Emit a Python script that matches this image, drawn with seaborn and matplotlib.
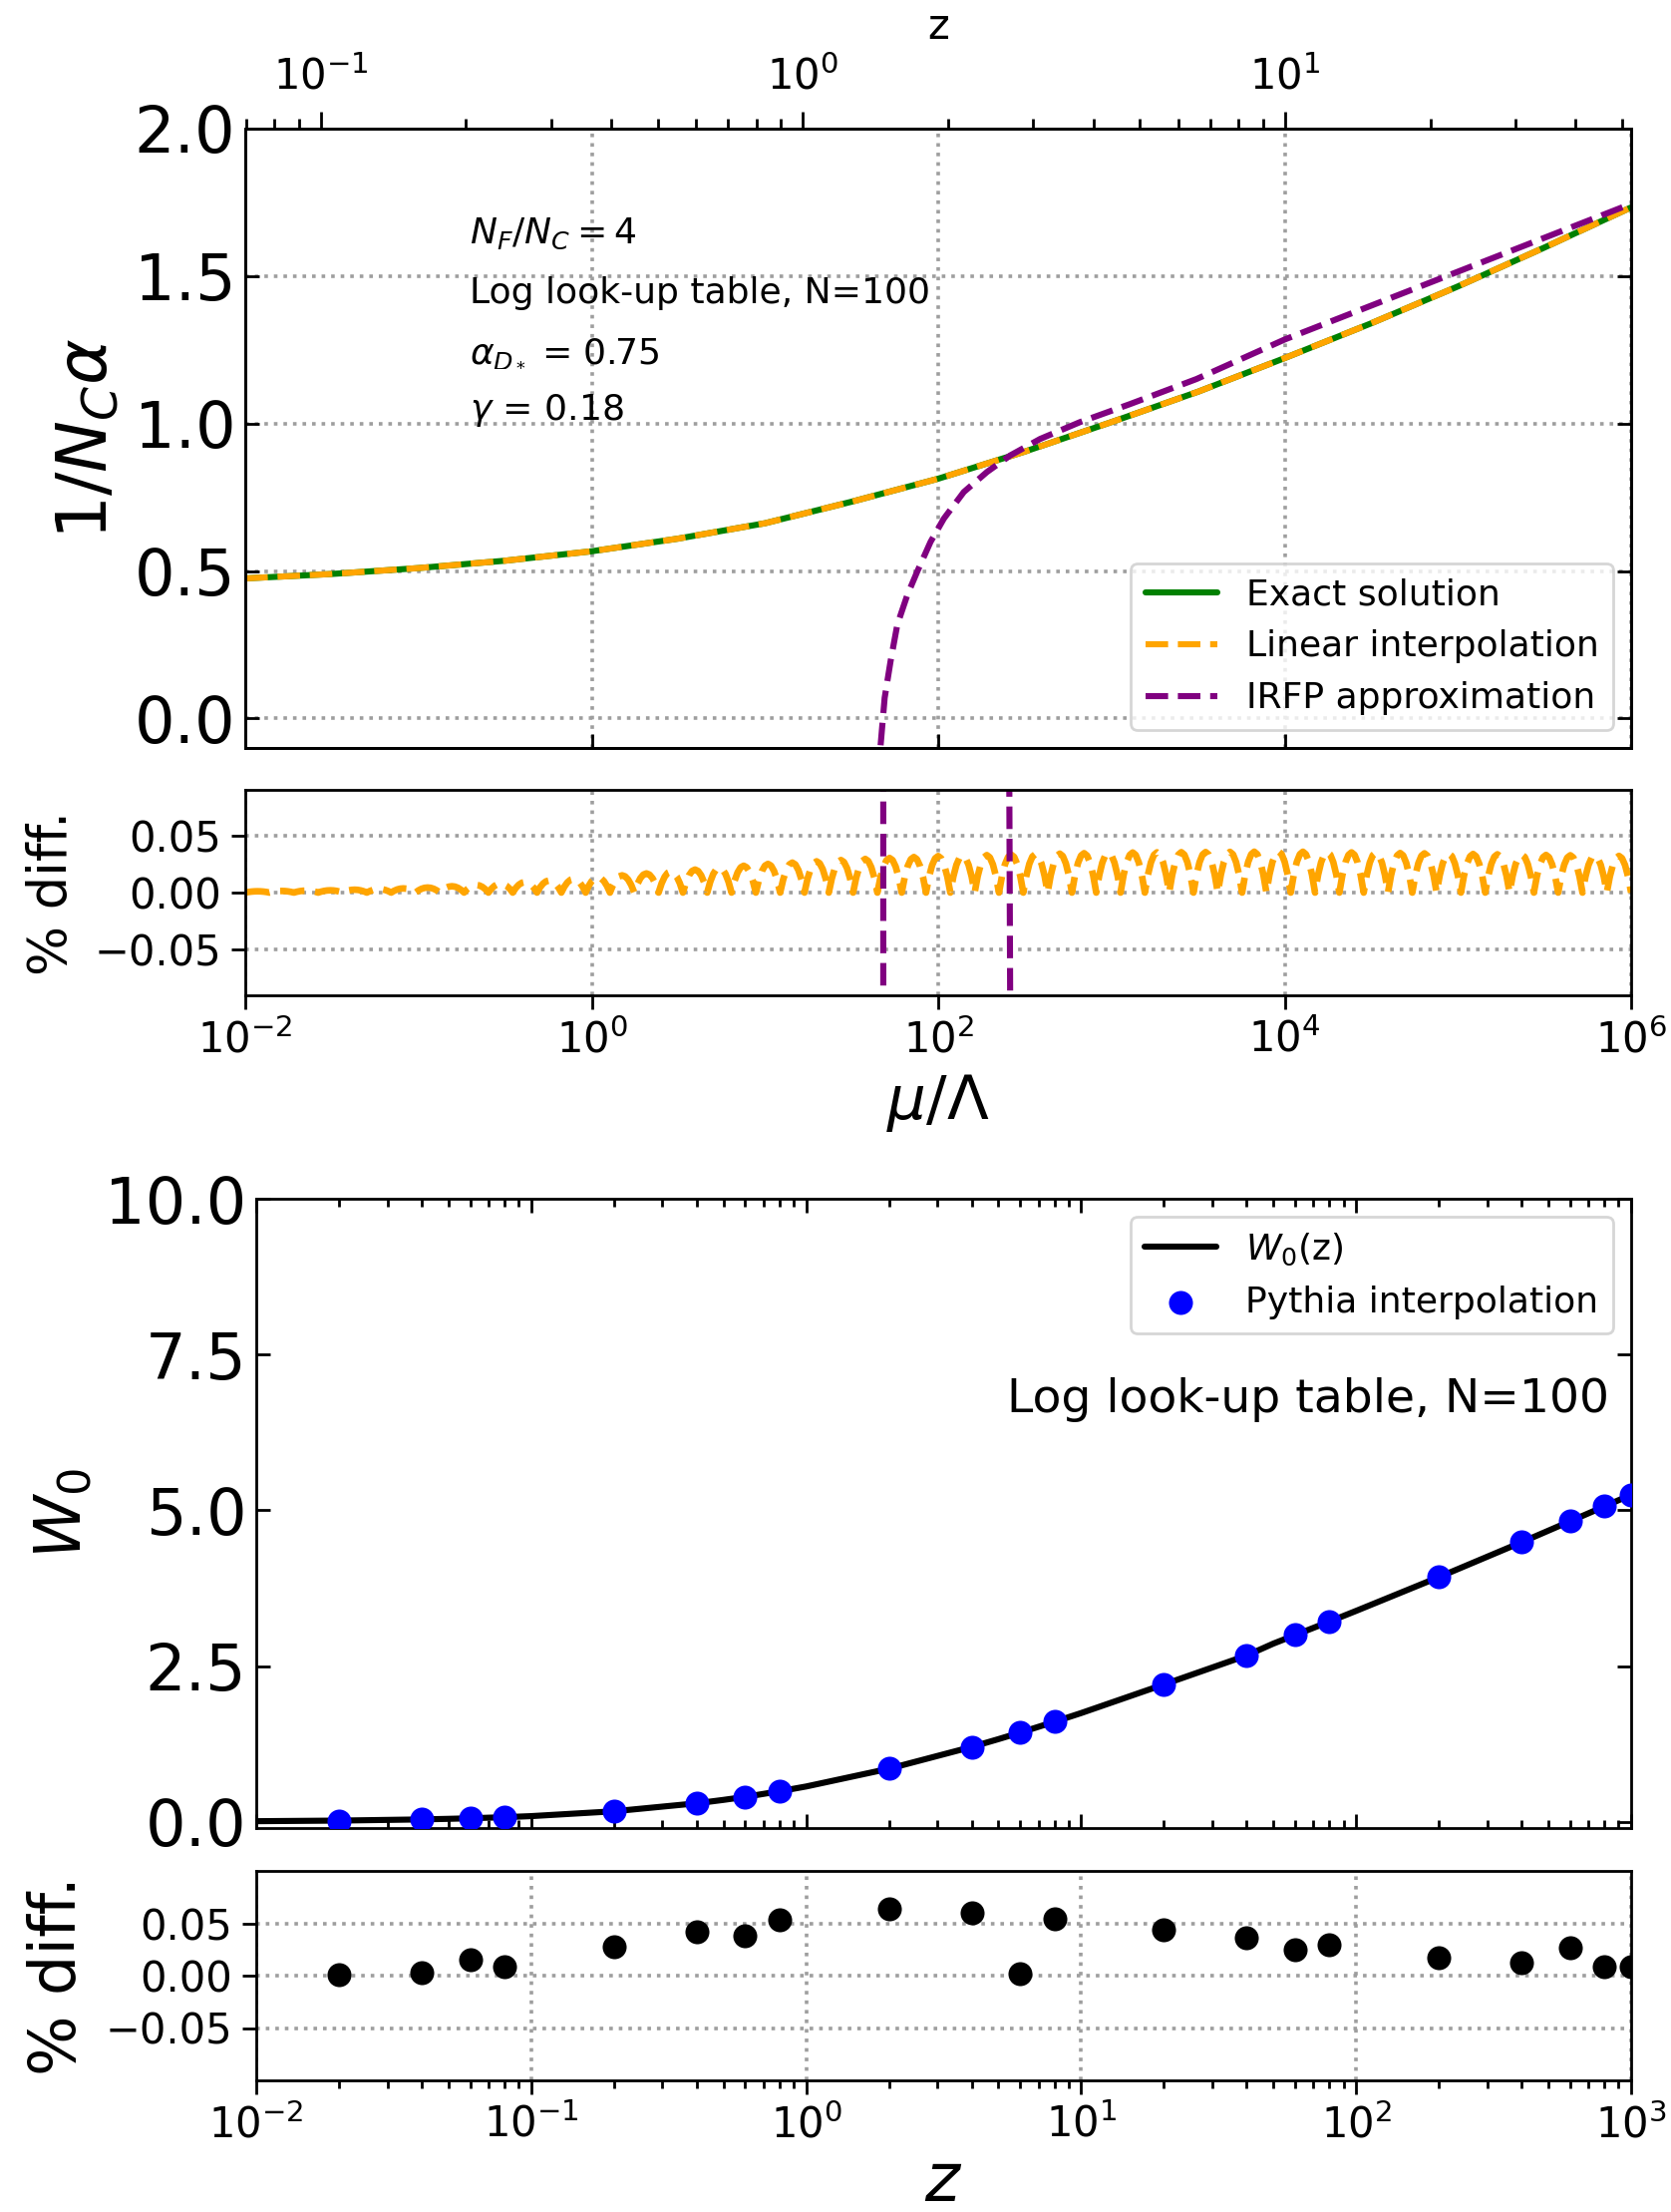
import numpy as np
import pandas as pd
import matplotlib
matplotlib.use("Agg")
import matplotlib.pyplot as plt
import seaborn as sns
from matplotlib.ticker import FixedLocator, NullLocator, LogLocator, LogFormatterSciNotation, NullFormatter

# ---------------- data ----------------
# Running coupling 1/(N_C alpha) against mu/Lambda
mu_exact = [1e-2, 10**-1.5, 1e-1, 10**-0.5, 1.0, 10**0.5, 10.0, 10**1.5, 1e2,
            10**2.5, 1e3, 10**3.5, 1e4, 10**4.5, 1e5, 10**5.5, 1e6]
inv_alpha_exact = [0.475, 0.49, 0.51, 0.535, 0.567, 0.61, 0.662, 0.735, 0.813,
                   0.905, 1.005, 1.108, 1.222, 1.34, 1.465, 1.597, 1.733]

# IR fixed point approximation
log_mu_irfp = [1.652, 1.668, 1.691, 1.725, 1.764, 1.822, 1.879, 1.956, 2.033, 2.148,
               2.282, 2.416, 2.589, 2.819, 3.107, 3.491, 4.0, 4.5, 5.0, 5.5, 6.0]
inv_alpha_irfp = [-0.2, -0.088, 0.07, 0.194, 0.318, 0.419, 0.498, 0.599, 0.678, 0.768,
                  0.836, 0.892, 0.948, 1.005, 1.066, 1.151, 1.285, 1.40, 1.515, 1.63, 1.745]

# percent difference of the IRFP approximation (off scale except at the pole and the crossing)
log_mu_irfp_diff = [1.60, 1.6825, 1.6835, 1.75, 2.0, 2.405, 2.413, 2.421, 3.0, 4.0, 5.0, 6.0]
irfp_diff = [-20.0, -1000.0, 1000.0, 30.0, 5.0, 0.3, 0.0, -0.3, -3.0, -5.0, -4.0, -1.0]

# envelope of the look-up table interpolation error (percent)
env_mu = [1e-2, 10**-1.5, 1e-1, 10**-0.5, 1.0, 10**0.5, 10.0, 10**1.5, 1e2, 1e3, 1e4, 1e5, 1e6]
env_pct = [0.001, 0.002, 0.004, 0.008, 0.013, 0.019, 0.025, 0.029, 0.032, 0.035, 0.036, 0.034, 0.032]
n_table_intervals = 57  # log look-up table intervals across the mu/Lambda range

# Lambert W0
z_pts = [0.02, 0.04, 0.06, 0.08, 0.2, 0.4, 0.6, 0.8, 2, 4, 6, 8, 20, 40, 60, 80,
         200, 400, 600, 800, 1000]
w0_pts = [0.0196, 0.0385, 0.0567, 0.0742, 0.1689, 0.2972, 0.4002, 0.4905, 0.8526,
          1.2022, 1.4324, 1.6058, 2.2050, 2.6699, 2.9975, 3.2145, 3.928, 4.488,
          4.824, 5.0626, 5.2496]
z_curve = [0.01, 0.02, 0.04, 0.05, 0.06, 0.08, 0.1, 0.2, 0.4, 0.5, 0.6, 0.8, 1, 2, 4,
           5, 6, 8, 10, 20, 40, 50, 60, 80, 100, 200, 400, 500, 600, 800, 1000]
w0_curve = [0.0099, 0.0196, 0.0385, 0.0477, 0.0567, 0.0742, 0.0913, 0.1689, 0.2972,
            0.3517, 0.4002, 0.4905, 0.5671, 0.8526, 1.2022, 1.3267, 1.4324, 1.6058,
            1.7455, 2.2050, 2.6699, 2.8604, 2.9975, 3.2145, 3.3856, 3.928, 4.488,
            4.6728, 4.824, 5.0626, 5.2496]
pythia_diff = [0.0005, 0.003, 0.0155, 0.0085, 0.0277, 0.042, 0.0385, 0.0532, 0.0635,
               0.060, 0.002, 0.0543, 0.0434, 0.0365, 0.0247, 0.030, 0.017, 0.0125,
               0.027, 0.0085, 0.009]

# ---------------- style ----------------
sns.set_theme(style="ticks")
plt.rcParams.update({
    "font.family": ["DejaVu Sans"],
    "mathtext.fontset": "dejavusans",
    "axes.edgecolor": "black",
    "axes.linewidth": 1.0,
    "axes.facecolor": "white",
    "figure.facecolor": "white",
    "xtick.color": "black",
    "ytick.color": "black",
    "text.color": "black",
    "axes.labelcolor": "black",
    "legend.edgecolor": "0.8",
    "legend.framealpha": 0.8,
    "legend.fancybox": True,
})

W, H = 1676, 2218
fig = plt.figure(figsize=(W / 200, H / 200), dpi=200)


def rect(l, t, r, b):
    return [l / W, 1 - b / H, (r - l) / W, (b - t) / H]


ax1 = fig.add_axes(rect(246, 129, 1636, 750))
ax2 = fig.add_axes(rect(246, 792, 1636, 998))
ax3 = fig.add_axes(rect(257, 1202, 1636, 1833))
ax4 = fig.add_axes(rect(257, 1876, 1636, 2086))

grid_kw = dict(ls=":", color="0.62", lw=1.3)
MAIN_TICK = 23
RES_TICK = 15

# ---------------- panel 1 ----------------
sns.lineplot(x=mu_exact, y=inv_alpha_exact, ax=ax1, color="green", lw=2.2,
             estimator=None, label="Exact solution")
sns.lineplot(x=mu_exact, y=inv_alpha_exact, ax=ax1, color="orange", lw=2.2,
             linestyle="--", estimator=None, label="Linear interpolation")
sns.lineplot(x=[10**v for v in log_mu_irfp], y=inv_alpha_irfp, ax=ax1, color="purple",
             lw=2.2, linestyle="--", estimator=None, sort=False, label="IRFP approximation")
ax1.set_xscale("log")
ax1.set_xlim(1e-2, 1e6)
ax1.set_ylim(-0.1, 2.0)
ax1.set_yticks([0.0, 0.5, 1.0, 1.5, 2.0])
ax1.xaxis.set_major_locator(FixedLocator([1e-2, 1, 1e2, 1e4, 1e6]))
ax1.xaxis.set_minor_locator(NullLocator())
ax1.tick_params(which="both", direction="in", top=True, right=True, labelsize=MAIN_TICK,
                labelbottom=False, length=5, width=1)
ax1.grid(True, which="major", **grid_kw)
ax1.set_ylabel(r"$1/N_C\alpha$", fontsize=25, labelpad=5)
ax1.set_xlabel("")
ax1.legend(loc="lower right", fontsize=13)

ann = [r"$N_F/N_C = 4$", "Log look-up table, N=100", r"$\alpha_{D_*}$ = 0.75", r"$\gamma$ = 0.18"]
for txt, yy in zip(ann, [0.831, 0.735, 0.6416, 0.5457]):
    ax1.text(0.162, yy, txt, transform=ax1.transAxes, fontsize=13, va="center", ha="left")

top = ax1.twiny()
top.set_xscale("log")
top.set_xlim(0.0697, 52.2)
top.set_xlabel("z", fontsize=15, labelpad=6)
top.tick_params(which="both", direction="out", labelsize=RES_TICK, width=1, pad=5)
top.tick_params(which="major", length=6)
top.tick_params(which="minor", length=3.5)

# ---------------- residual 1 ----------------
nodes = np.linspace(-2.0, 6.0, n_table_intervals + 1)
t = np.linspace(0, 1, 9)
res_x, res_y = [], []
for a, b in zip(nodes[:-1], nodes[1:]):
    amp = np.interp(0.5 * (a + b), np.log10(env_mu), env_pct)
    xs = a + (b - a) * t
    ys = 4 * amp * t * (1 - t)
    res_x.extend(xs[:-1])
    res_y.extend(ys[:-1])
res_x.append(nodes[-1])
res_y.append(0.0)
res_df = pd.DataFrame({"mu": 10 ** np.array(res_x), "pct": res_y})
sns.lineplot(data=res_df, x="mu", y="pct", ax=ax2, color="orange", lw=2.4,
             linestyle="--", estimator=None, sort=False)
sns.lineplot(x=[10**v for v in log_mu_irfp_diff], y=irfp_diff, ax=ax2, color="purple",
             lw=2.2, linestyle="--", estimator=None, sort=False)
ax2.set_xscale("log")
ax2.set_xlim(1e-2, 1e6)
ax2.set_ylim(-0.09, 0.09)
ax2.set_yticks([-0.05, 0.0, 0.05])
ax2.xaxis.set_major_locator(FixedLocator([1e-2, 1, 1e2, 1e4, 1e6]))
ax2.xaxis.set_major_formatter(LogFormatterSciNotation())
ax2.xaxis.set_minor_locator(NullLocator())
ax2.tick_params(which="both", direction="out", labelsize=RES_TICK, length=5, width=1)
ax2.grid(True, which="major", **grid_kw)
ax2.set_ylabel("% diff.", fontsize=19, labelpad=6)
ax2.set_xlabel(r"$\mu/\Lambda$", fontsize=22)

# ---------------- panel 3 ----------------
sns.lineplot(x=z_curve, y=w0_curve, ax=ax3, color="black", lw=2.2, estimator=None,
             label=r"$W_0$(z)")
sns.scatterplot(x=z_pts, y=w0_pts, ax=ax3, color="blue", s=75, linewidth=0,
                label="Pythia interpolation", zorder=3)
ax3.set_xscale("log")
ax3.set_xlim(1e-2, 1e3)
ax3.set_ylim(-0.1, 10.0)
ax3.set_yticks([0.0, 2.5, 5.0, 7.5, 10.0])
ax3.xaxis.set_major_locator(LogLocator(base=10, numticks=12))
ax3.xaxis.set_minor_locator(LogLocator(base=10, subs=np.arange(2, 10), numticks=12))
ax3.xaxis.set_minor_formatter(NullFormatter())
ax3.tick_params(which="both", direction="in", top=True, right=True, labelsize=MAIN_TICK,
                labelbottom=False, width=1)
ax3.tick_params(which="major", length=5)
ax3.tick_params(which="minor", length=3)
ax3.set_ylabel(r"$W_0$", fontsize=23, labelpad=4)
ax3.set_xlabel("")
ax3.legend(loc="upper right", fontsize=13)
ax3.text(0.984, 0.68, "Log look-up table, N=100", transform=ax3.transAxes,
         fontsize=17, ha="right", va="center")

# ---------------- residual 2 ----------------
sns.scatterplot(x=z_pts, y=pythia_diff, ax=ax4, color="black", s=75, linewidth=0,
                zorder=3)
ax4.set_xscale("log")
ax4.set_xlim(1e-2, 1e3)
ax4.set_ylim(-0.1, 0.1)
ax4.set_yticks([-0.05, 0.0, 0.05])
ax4.xaxis.set_major_locator(LogLocator(base=10, numticks=12))
ax4.xaxis.set_minor_locator(LogLocator(base=10, subs=np.arange(2, 10), numticks=12))
ax4.xaxis.set_minor_formatter(NullFormatter())
ax4.tick_params(which="both", direction="out", labelsize=RES_TICK, width=1)
ax4.tick_params(which="major", length=5)
ax4.tick_params(which="minor", length=3)
ax4.grid(True, which="major", **grid_kw)
ax4.set_ylabel("% diff.", fontsize=23, labelpad=6)
ax4.set_xlabel(r"$z$", fontsize=24, labelpad=1)

fig.savefig("out.png", dpi=200)
